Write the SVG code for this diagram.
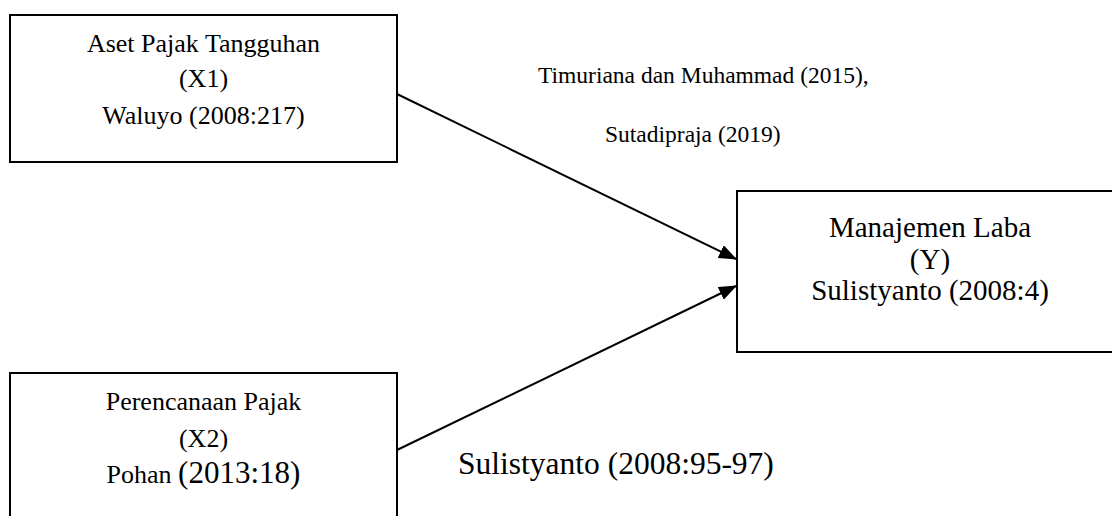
<svg xmlns="http://www.w3.org/2000/svg" width="1112" height="516" viewBox="0 0 1112 516">
<style>
.box{fill:#fff;stroke:#000;stroke-width:2}
.t{font-family:"Liberation Serif","Times New Roman",serif;fill:#000}
.c{text-anchor:middle}
.edge{stroke:#000;stroke-width:2;fill:none}
</style>
<defs>
<marker id="ah" markerWidth="18" markerHeight="14" refX="17" refY="7" orient="auto" markerUnits="userSpaceOnUse">
<path d="M0,0 L18,7 L0,14 Z" fill="#000"/>
</marker>
</defs>
<rect width="1112" height="516" fill="#fff"/>
<g id="connectors">
<line class="edge" x1="397" y1="94" x2="736" y2="259" marker-end="url(#ah)"/>
<line class="edge" x1="397" y1="450" x2="736" y2="286" marker-end="url(#ah)"/>
</g>
<g id="x1">
<rect class="box" x="10" y="15" width="387" height="147"/>
<text class="t c" x="203.5" y="52" font-size="26">Aset Pajak Tangguhan</text>
<text class="t c" x="203.5" y="87" font-size="26">(X1)</text>
<text class="t c" x="203.5" y="124" font-size="26">Waluyo (2008:217)</text>
</g>
<g id="x2">
<rect class="box" x="10" y="373" width="387" height="160"/>
<text class="t c" x="203.5" y="410" font-size="26">Perencanaan Pajak</text>
<text class="t c" x="203.5" y="447" font-size="26">(X2)</text>
<text class="t c" x="203.5" y="483" font-size="26">Pohan <tspan font-size="31">(2013:18)</tspan></text>
</g>
<g id="y">
<rect class="box" x="737" y="191" width="400" height="161"/>
<text class="t c" x="930" y="237" font-size="29">Manajemen Laba</text>
<text class="t c" x="930" y="269" font-size="29">(Y)</text>
<text class="t c" x="930" y="300" font-size="29">Sulistyanto (2008:4)</text>
</g>
<g id="labels">
<text class="t" x="538" y="83" font-size="23.5">Timuriana dan Muhammad (2015),</text>
<text class="t" x="605" y="142" font-size="23.5">Sutadipraja (2019)</text>
<text class="t" x="458" y="474" font-size="31.5">Sulistyanto (2008:95-97)</text>
</g>
</svg>
